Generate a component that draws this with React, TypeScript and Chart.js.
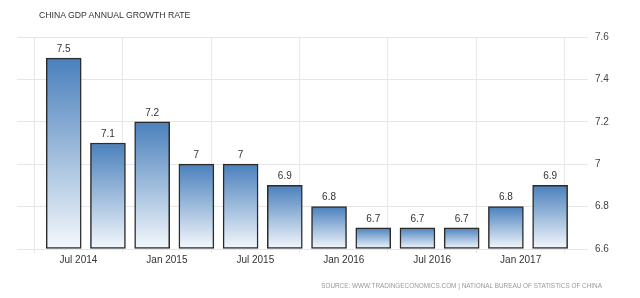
import React, { useEffect, useRef } from "react";
import { Chart, registerables } from "chart.js";

Chart.register(...registerables);

const title = "CHINA GDP ANNUAL GROWTH RATE";
const source = "SOURCE: WWW.TRADINGECONOMICS.COM | NATIONAL BUREAU OF STATISTICS OF CHINA";

const barDates = [
  "2014-06", "2014-09", "2014-12", "2015-03", "2015-06", "2015-09",
  "2015-12", "2016-03", "2016-06", "2016-09", "2016-12", "2017-03",
];
const growthValues = [7.5, 7.1, 7.2, 7, 7, 6.9, 6.8, 6.7, 6.7, 6.7, 6.8, 6.9];

const tickDates = ["2014-07", "2015-01", "2015-07", "2016-01", "2016-07", "2017-01"];
const tickLabels = ["Jul 2014", "Jan 2015", "Jul 2015", "Jan 2016", "Jul 2016", "Jan 2017"];

const yTicks = [6.6, 6.8, 7, 7.2, 7.4, 7.6];

const toMonth = (d: string) => {
  const [y, m] = d.split("-").map(Number);
  return (y - 2014) * 12 + (m - 1);
};

const FONT = "'Liberation Sans', Arial, sans-serif";

export default function App() {
  const ref = useRef<HTMLCanvasElement | null>(null);

  useEffect(() => {
    const canvas = ref.current;
    if (!canvas) return;

    const points = barDates.map((d, i) => ({ x: toMonth(d), y: growthValues[i] }));
    const tickMonths = tickDates.map(toMonth);

    const valueLabels = {
      id: "valueLabels",
      afterDatasetsDraw(chart: any) {
        const ctx = chart.ctx;
        const meta = chart.getDatasetMeta(0);
        ctx.save();
        ctx.font = `10px ${FONT}`;
        ctx.fillStyle = "#333";
        ctx.textAlign = "center";
        ctx.textBaseline = "middle";
        meta.data.forEach((el: any, i: number) => {
          ctx.fillText(String(growthValues[i]), el.x, el.y - 9);
        });
        ctx.restore();
      },
    };

    const chart = new Chart(canvas, {
      type: "bar",
      data: {
        datasets: [
          {
            data: points as any,
            base: 6.6,
            barThickness: 35,
            borderWidth: 1.5,
            borderColor: "#2b2b2b",
            borderSkipped: false,
            backgroundColor: (c: any) => {
              const ch = c.chart;
              const ys = ch.scales?.y;
              if (!ys || !ch.chartArea || c.raw == null) return "#6a97c8";
              const v = typeof c.raw === "object" ? c.raw.y : c.raw;
              const top = ys.getPixelForValue(v);
              const bottom = ys.getPixelForValue(6.6);
              if (!isFinite(top) || !isFinite(bottom) || top === bottom) return "#6a97c8";
              const g = ch.ctx.createLinearGradient(0, top, 0, bottom);
              g.addColorStop(0, "#4a80bc");
              g.addColorStop(1, "#f4f8fc");
              return g;
            },
          } as any,
        ],
      },
      options: {
        animation: false,
        responsive: false,
        maintainAspectRatio: false,
        layout: { padding: { top: 37, left: 17, right: 0, bottom: 0 } },
        plugins: {
          legend: { display: false },
          tooltip: { enabled: false },
          title: { display: false },
        },
        scales: {
          x: {
            type: "linear",
            min: 1.83,
            max: 40.57,
            offset: false,
            afterBuildTicks: (scale: any) => {
              scale.ticks = tickMonths.map((v) => ({ value: v }));
            },
            afterFit: (scale: any) => {
              scale.height = 49;
            },
            ticks: {
              autoSkip: false,
              maxRotation: 0,
              padding: 1,
              color: "#333",
              font: { size: 10, family: FONT },
              callback: (v: any) => {
                const idx = tickMonths.indexOf(Number(v));
                return idx >= 0 ? tickLabels[idx] : "";
              },
            },
            grid: { color: "#e8e8e8", lineWidth: 1, tickLength: 4, drawTicks: true },
            border: { display: false },
          },
          y: {
            position: "right",
            min: 6.6,
            max: 7.6,
            beginAtZero: false,
            afterBuildTicks: (scale: any) => {
              scale.ticks = yTicks.map((v) => ({ value: v }));
            },
            afterFit: (scale: any) => {
              scale.width = 52;
            },
            ticks: {
              padding: 7,
              color: "#444",
              font: { size: 10, family: FONT },
              callback: (v: any) => String(Number(Number(v).toFixed(1))),
            },
            grid: { color: "#e6e6e6", lineWidth: 1, drawTicks: false, tickLength: 0 },
            border: { display: false },
          },
        },
      },
      plugins: [valueLabels],
    });

    return () => chart.destroy();
  }, []);

  return (
    <div style={{ position: "absolute", left: 0, top: 0, width: 640, height: 298, background: "#fff" }}>
      <canvas ref={ref} width={640} height={298} style={{ position: "absolute", left: 0, top: 0, width: 640, height: 298 }} />
      <div
        style={{
          position: "absolute",
          left: 39,
          top: 10,
          fontFamily: FONT,
          fontSize: 8.7,
          color: "#333",
          lineHeight: "11px",
          whiteSpace: "nowrap",
        }}
      >
        {title}
      </div>
      <div
        style={{
          position: "absolute",
          right: 38,
          top: 281,
          fontFamily: FONT,
          fontSize: 6.4,
          color: "#999",
          lineHeight: "10px",
          whiteSpace: "nowrap",
        }}
      >
        {source}
      </div>
    </div>
  );
}
